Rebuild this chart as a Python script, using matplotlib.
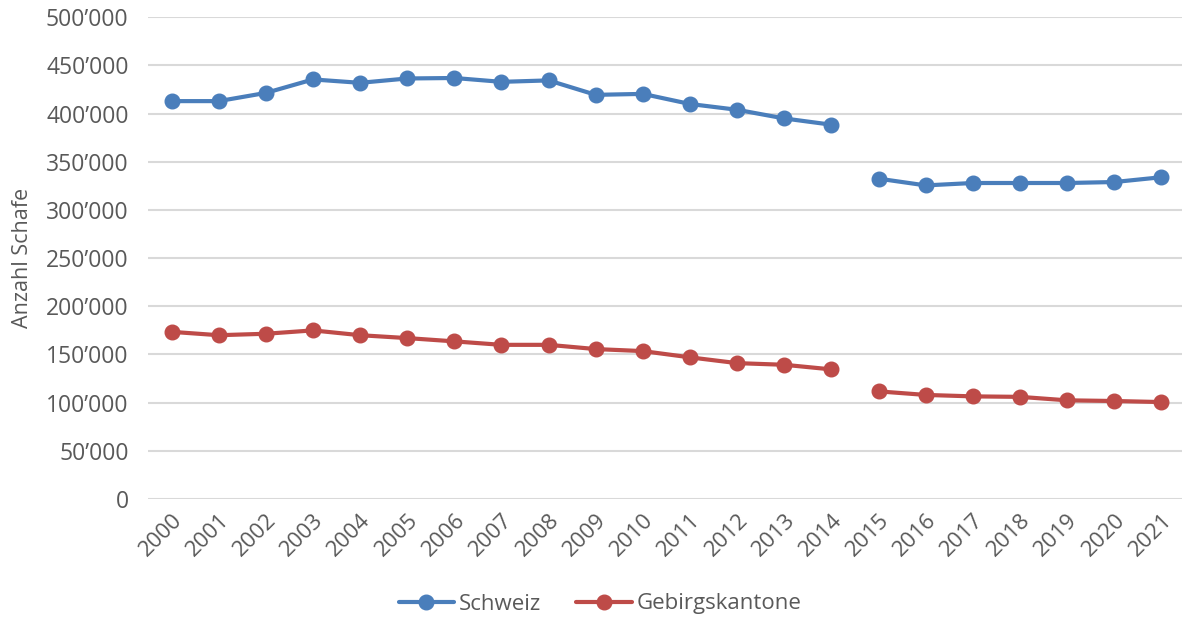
import matplotlib
matplotlib.use("Agg")
import matplotlib.pyplot as plt
from matplotlib.ticker import FuncFormatter, MultipleLocator
import numpy as np

years = [str(y) for y in range(2000, 2022)]

schweiz = [413000, 413000, 421500, 435500, 432000, 436500, 437000, 433000,
           434500, 419500, 420500, 410000, 404000, 395000, 388500,
           332500, 325500, 328000, 328000, 328000, 329000, 334000]

gebirgskantone = [173500, 170000, 171500, 175000, 170000, 167000, 163600,
                  160000, 160000, 155600, 153500, 147000, 141000, 139300,
                  134500, 111700, 108000, 106500, 106000, 102400, 101700,
                  100600]

# the survey method changed in 2015, so the series are not connected there
break_index = 15

blue = "#4A7EBB"
red = "#BE4B48"
text_grey = "#595959"

plt.rcParams["font.family"] = ["Open Sans", "DejaVu Sans"]

fig = plt.figure(figsize=(11.82, 6.18), dpi=100)
ax = fig.add_axes([0.1252, 0.1926, 0.8773, 0.7794])

x = np.arange(len(years))
for values, color, label in [(schweiz, blue, "Schweiz"),
                             (gebirgskantone, red, "Gebirgskantone")]:
    v = np.array(values, dtype=float)
    style = dict(color=color, lw=3, marker="o", markersize=10.5,
                 solid_capstyle="round", zorder=3)
    ax.plot(x[:break_index], v[:break_index], label=label, **style)
    ax.plot(x[break_index:], v[break_index:], **style)

ax.set_xlim(-0.5, len(years) - 0.5)
ax.set_ylim(0, 500000)
ax.yaxis.set_major_locator(MultipleLocator(50000))
ax.yaxis.set_major_formatter(
    FuncFormatter(lambda v, p: "0" if v == 0 else f"{int(v):,}".replace(",", "\u2019")))
ax.set_xticks(x)
ax.set_xticklabels(years, rotation=45, ha="right", rotation_mode="anchor")

ax.grid(axis="y", color="#D9D9D9", lw=1.5, zorder=0)
for s in ax.spines.values():
    s.set_visible(False)
ax.tick_params(axis="both", length=0, colors=text_grey, labelsize=16)
ax.tick_params(axis="y", labelsize=16.5, pad=14)
ax.tick_params(axis="x", pad=8)

ax.set_ylabel("Anzahl Schafe", fontsize=15.5, color=text_grey, labelpad=9)

ax.legend(loc="center", bbox_to_anchor=(600 / 1182, 14 / 618),
          bbox_transform=fig.transFigure, ncol=2, frameon=False,
          fontsize=16, labelcolor=text_grey, handlelength=2.5,
          columnspacing=1.6, handletextpad=0.2)

fig.savefig("out.png", dpi=100, facecolor="white")
